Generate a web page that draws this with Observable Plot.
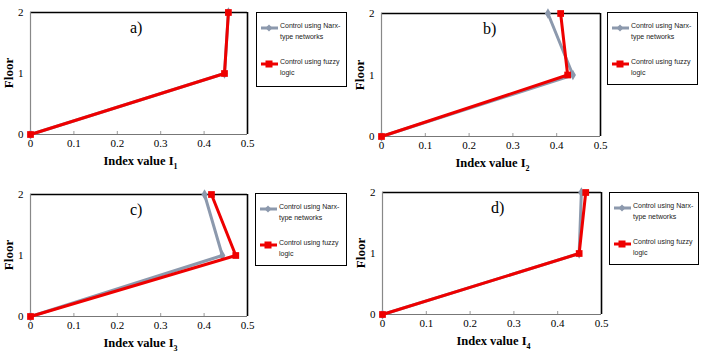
<!DOCTYPE html>
<html><head><meta charset="utf-8">
<script src="https://cdn.jsdelivr.net/npm/d3@7"></script>
<script src="https://cdn.jsdelivr.net/npm/@observablehq/plot@0.6"></script>
<style>
body{margin:0;background:#fff;}
#root{position:relative;width:702px;height:356px;overflow:hidden;font-family:"Liberation Serif","Times New Roman",Times,serif;}
.abs{position:absolute;}
.xlab{font-weight:bold;font-size:12.5px;white-space:nowrap;transform:translateX(-50%);}
.xlab sub{font-size:8px;}
.ylab{font-weight:bold;font-size:13px;transform:translate(-50%,-50%) rotate(-90deg);white-space:nowrap;}
.plab{font-size:16px;}
.legend{border:1.5px solid #000;box-sizing:border-box;font-family:"Liberation Sans",Arial,sans-serif;font-size:7px;color:#222;}
.entry{position:absolute;left:3px;}
.entry svg{position:absolute;left:0;top:0;}
.entry div{position:absolute;left:20px;top:-3px;line-height:11px;white-space:nowrap;}
</style></head>
<body><div id="root"></div>
<script>
const floors = [0, 1, 2];
const panelNames = ["a)", "b)", "c)", "d)"];
const axisSubs = ["1", "2", "3", "4"];
const xTicks = [0, 0.1, 0.2, 0.3, 0.4, 0.5];
const yTicks = [0, 1, 2];
const seriesNames = ["Control using Narx-type networks", "Control using fuzzy logic"];
const narxA = [0, 0.447, 0.456];
const fuzzyA = [0, 0.447, 0.456];
const narxB = [0, 0.437, 0.380];
const fuzzyB = [0, 0.425, 0.409];
const narxC = [0, 0.442, 0.401];
const fuzzyC = [0, 0.473, 0.417];
const narxD = [0, 0.449, 0.454];
const fuzzyD = [0, 0.449, 0.464];

const GRAY = "#8c99ad", RED = "#ee0000";
const SERIF = '"Liberation Serif", "Times New Roman", Times, serif';

// frame boxes [L, R, T, B]
const frames = [[30, 247, 12, 134], [381, 600, 13, 136], [30, 247, 194, 316], [382, 601, 192, 314]];
const legends = [[256, 12, 91, 75], [607, 12, 91, 73], [255, 193, 92, 73], [609, 192, 90, 73]];
const narx = [narxA, narxB, narxC, narxD];
const fuzzy = [fuzzyA, fuzzyB, fuzzyC, fuzzyD];

const root = document.getElementById("root");

function add(html, cls, x, y) {
  const d = document.createElement("div");
  d.className = "abs " + cls;
  d.style.left = x + "px"; d.style.top = y + "px";
  d.innerHTML = html;
  root.appendChild(d);
  return d;
}

frames.forEach(([L, R, T, B], i) => {
  const mL = 30, mT = 12, mR = 6, mB = 22;
  const rows = d3.range(floors.length).flatMap(k => [
    {s: seriesNames[0], x: narx[i][k], y: floors[k]},
    {s: seriesNames[1], x: fuzzy[i][k], y: floors[k]}
  ]);
  const g = rows.filter(r => r.s === seriesNames[0]);
  const r = rows.filter(r => r.s === seriesNames[1]);
  const plot = Plot.plot({
    width: (R - L) + mL + mR,
    height: (B - T) + mT + mB,
    marginLeft: mL, marginTop: mT, marginRight: mR, marginBottom: mB,
    style: {fontFamily: SERIF, fontSize: "11px", color: "#000", overflow: "visible"},
    x: {domain: [0, 0.5]},
    y: {domain: [0, 2]},
    marks: [
      Plot.axisX({ticks: xTicks, tickSize: -3, tickPadding: 8, label: null, stroke: "#999", tickFormat: d => d === 0 ? "0" : String(d)}),
      Plot.axisY({ticks: yTicks, tickSize: 0, tickPadding: 7, label: null, tickFormat: d => String(d)}),
      Plot.ruleY([2], {stroke: "#000", strokeWidth: 1.6}),
      Plot.ruleX([0.5], {stroke: "#000", strokeWidth: 1.6}),
      Plot.ruleX([0], {stroke: "#888", strokeWidth: 1.2}),
      Plot.ruleY([0], {stroke: "#777", strokeWidth: 1.2}),
      Plot.line(g, {x: "x", y: "y", stroke: GRAY, strokeWidth: 3}),
      Plot.dot(g, {x: "x", y: "y", symbol: "diamond", fill: GRAY, r: 3.2}),
      Plot.line(r, {x: "x", y: "y", stroke: RED, strokeWidth: 3}),
      Plot.dot(r, {x: "x", y: "y", symbol: "square", fill: RED, r: 3.8})
    ]
  });
  plot.querySelectorAll("text").forEach(t => t.setAttribute("font-family", SERIF));
  const wrap = document.createElement("div");
  wrap.className = "abs";
  wrap.style.left = (L - mL) + "px"; wrap.style.top = (T - mT) + "px";
  wrap.appendChild(plot);
  root.appendChild(wrap);

  const cx = (L + R) / 2;
  add("Index value I<sub>" + axisSubs[i] + "</sub>", "xlab", cx + 2, B + 20);
  add("Floor", "ylab", L - 21, (T + B) / 2);
  add(panelNames[i], "plab", L + 100 + (i % 2 === 1 ? 2 : 0) + (i === 3 ? 7 : 0), T + 7);

  const [lx, ly, lw, lh] = legends[i];
  const lg = add("", "legend", lx, ly);
  lg.style.width = lw + "px"; lg.style.height = lh + "px";
  const mk = (color, sym, name1, name2, top) => {
    const shape = sym === "square"
      ? `<rect x="5.5" y="1.5" width="7" height="7" fill="${color}"/>`
      : `<path d="M9 1.5 L12.5 5 L9 8.5 L5.5 5 Z" fill="${color}"/>`;
    return `<div class="entry" style="top:${top}px"><svg width="20" height="10"><line x1="1" y1="5" x2="18" y2="5" stroke="${color}" stroke-width="3"/>${shape}</svg><div>${name1}<br>${name2}</div></div>`;
  };
  lg.innerHTML = mk(GRAY, "diamond", "Control using Narx-", "type networks", 10) +
                 mk(RED, "square", "Control using fuzzy", "logic", 46);
});
</script></body></html>
